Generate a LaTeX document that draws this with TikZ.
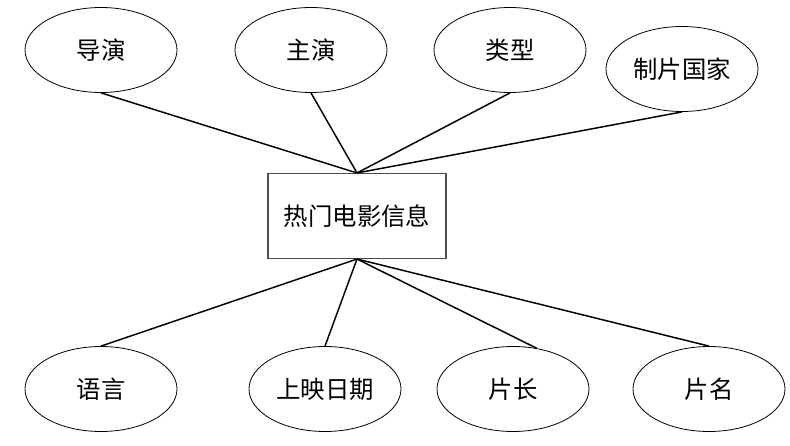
\documentclass[tikz,border=0pt]{standalone}
\usepackage{fontspec}
\newfontfamily\cjk{Noto Sans CJK SC}
\usetikzlibrary{shapes.geometric}

\begin{document}
\begin{tikzpicture}[x=0.75pt,y=-0.75pt,font=\cjk\fontsize{18.3}{21}\selectfont,
  attr/.style={draw,ellipse,line width=0.6pt,inner sep=0pt,minimum width=114pt,minimum height=63.75pt},
  entity/.style={draw=black!70,line width=0.8pt,inner sep=0pt,minimum width=133.5pt,minimum height=63.75pt},
  link/.style={line width=1.1pt}]
  \useasboundingbox (0,0) rectangle (790,446);
  \node[entity] (film) at (357,216) {热门电影信息};
  % top attributes
  \node[attr] (director) at (101,50) {导演};
  \node[attr] (star) at (311,50) {主演};
  \node[attr] (genre) at (510,50) {类型};
  \node[attr] (country) at (682,69) {制片国家};
  % bottom attributes
  \node[attr] (lang) at (101,389) {语言};
  \node[attr] (release) at (325,389) {上映日期};
  \node[attr] (length) at (513,389) {片长};
  \node[attr] (title) at (709,389) {片名};
  \draw[link] (director.south) -- (film.north);
  \draw[link] (star.south) -- (film.north);
  \draw[link] (genre.south) -- (film.north);
  \draw[link] (country.south) -- (film.north);
  \draw[link] (film.south) -- (lang.north);
  \draw[link] (film.south) -- (release.north);
  \draw[link] (film.south) -- (length.60);
  \draw[link] (film.south) -- (title.north);
\end{tikzpicture}
\end{document}
